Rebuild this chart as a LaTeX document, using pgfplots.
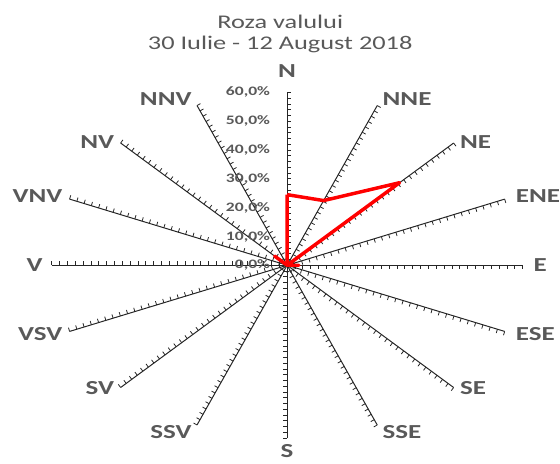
\documentclass[border=0pt]{standalone}
\usepackage{pgfplots}
\pgfplotsset{compat=1.18}
\usetikzlibrary{calc}
\usepackage{fontspec}
\setmainfont{Carlito}[FakeStretch=1.36]
\definecolor{txt}{HTML}{595959}
\tikzset{
  lab/.style={text=txt, inner sep=0pt, font=\fontsize{20bp}{24bp}\selectfont\bfseries},
  ttl/.style={text=txt, inner sep=0pt, font=\fontsize{19.5bp}{24bp}\selectfont},
  tl/.style={text=txt, inner sep=0pt, anchor=east, font=\fontsize{13bp}{16bp}\selectfont\bfseries},
}
\begin{document}
\begin{tikzpicture}
\path (0,0) rectangle (560bp,467bp);
\begin{scope}[shift={(289bp,200bp)}, x=3.95bp, y=2.9bp, black!85]
\foreach \a in {0,22.5,...,337.5}{
  \draw[line width=1bp] (0,0) -- (\a:60);
  \foreach \k in {2,4,...,60}{
    \draw[line width=0.8bp] (\a:\k) -- ($(\a:\k)!4bp!90:(0,0)$);
  }
}
\end{scope}
\begin{axis}[at={(0,0)}, anchor=south west, x=3.95bp, y=2.9bp, xmin=-73.16, xmax=68.61, ymin=-68.97, ymax=92.07,
  hide axis, clip=false, scale only axis]
% tick labels on N axis
\node[tl] at (axis cs:-4.3,60) {60,0\%};
\node[tl] at (axis cs:-4.3,50) {50,0\%};
\node[tl] at (axis cs:-4.3,40) {40,0\%};
\node[tl] at (axis cs:-4.3,30) {30,0\%};
\node[tl] at (axis cs:-4.3,20) {20,0\%};
\node[tl] at (axis cs:-4.3,10) {10,0\%};
\node[tl] at (axis cs:-4.3,0) {0,0\%};
% data (angle, percent)
\addplot[red, line width=3.5bp, line join=round, data cs=polar] coordinates {
  (90,24.5) (67.5,24.3) (45,40.5) (22.5,0) (0,3) (-22.5,0) (-45,0) (-67.5,0)
  (-90,0) (-112.5,0) (-135,0) (-157.5,0) (180,0) (157.5,0) (135,4.5) (112.5,0) (90,24.5)
};
% direction labels
\node[lab, anchor=center] at (axis cs:0,67.24) {N};
\node[lab, anchor=west] at (axis cs:24.30,57.76) {NNE};
\node[lab, anchor=west] at (axis cs:44.05,42.76) {NE};
\node[lab, anchor=west] at (axis cs:58.23,23.97) {ENE};
\node[lab, anchor=west] at (axis cs:62.78,0) {E};
\node[lab, anchor=west] at (axis cs:58.23,-23.97) {ESE};
\node[lab, anchor=west] at (axis cs:44.05,-42.76) {SE};
\node[lab, anchor=west] at (axis cs:24.30,-57.76) {SSE};
\node[lab, anchor=center] at (axis cs:0,-64.6) {S};
\node[lab, anchor=east] at (axis cs:-24.30,-57.76) {SSV};
\node[lab, anchor=east] at (axis cs:-44.05,-42.76) {SV};
\node[lab, anchor=east] at (axis cs:-57.22,-23.97) {VSV};
\node[lab, anchor=east] at (axis cs:-62.28,0) {V};
\node[lab, anchor=east] at (axis cs:-57.22,23.97) {VNV};
\node[lab, anchor=east] at (axis cs:-44.05,42.76) {NV};
\node[lab, anchor=east] at (axis cs:-24.30,57.76) {NNV};
% title
\node[ttl, anchor=base] at (axis cs:-1.77,82.3) {Roza valului};
\node[ttl, anchor=base] at (axis cs:-1.77,75.0) {30 Iulie - 12 August 2018};
\end{axis}
\end{tikzpicture}
\end{document}
